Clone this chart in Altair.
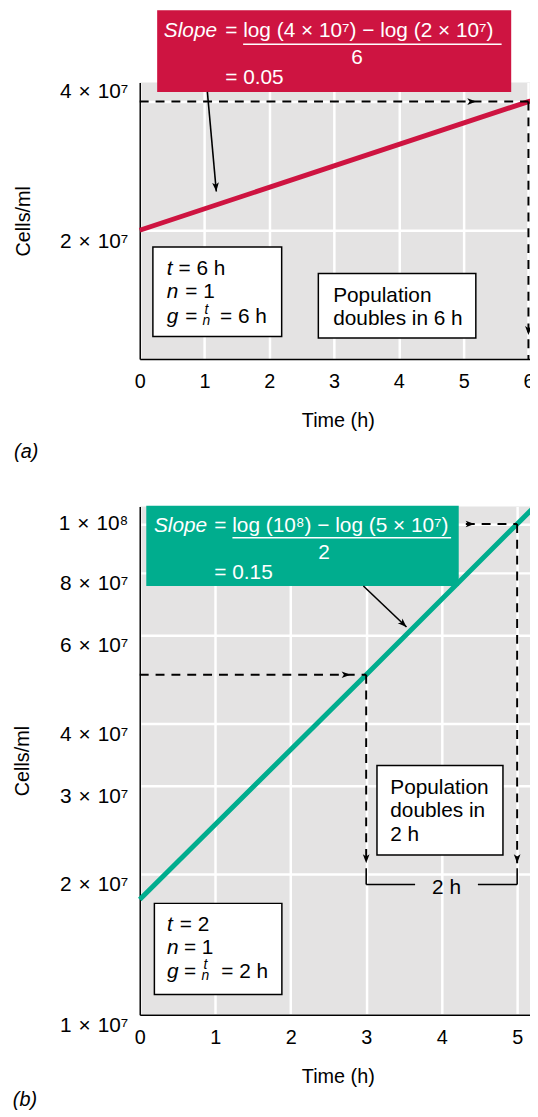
import altair as alt
import pandas as pd

# ---------------- data ----------------
# (a) slow growth: doubles in 6 h
TIME_A = [0, 6, 6.1]
CELLS_A = [2.0e7, 4.0e7, 4.02e7]
# (b) fast growth: doubles in 2 h
TIME_B = [0, 3, 5, 5.23]
CELLS_B = [1.78e7, 5.0e7, 1.0e8, 1.083e8]

X_TICKS_A = [0, 1, 2, 3, 4, 5, 6]
X_TICKS_B = [0, 1, 2, 3, 4, 5]
Y_TICKS_A = [2e7, 4e7]
Y_LABELS_A = ["2\u2004×\u200410⁷", "4\u2004×\u200410⁷"]
Y_TICKS_B = [1e7, 2e7, 3e7, 4e7, 6e7, 8e7, 1e8]
Y_LABELS_B = ["1\u2004×\u200410⁷", "2\u2004×\u200410⁷", "3\u2004×\u200410⁷", "4\u2004×\u200410⁷",
              "6\u2004×\u200410⁷", "8\u2004×\u200410⁷", "1\u2004×\u200410⁸"]

X_DOMAIN_A = [0, 6.116]
Y_DOMAIN_A = [1.0e7, 4.43e7]
X_DOMAIN_B = [0, 5.249]
Y_DOMAIN_B = [1.048e7, 1.0835e8]

# ---------------- styling ----------------
FONT = "Liberation Sans"
RED = "#CE1441"
GREEN = "#00AD8E"
GREY = "#E4E3E3"
W = 400
H_A = 279
H_B = 513
ARROW = "M0,0 L-2,-0.75 L-1.5,0 L-2,0.75 Z"


def label_expr(ticks, labels):
    expr = "'" + labels[-1] + "'"
    for i in range(len(ticks) - 2, -1, -1):
        th = (ticks[i] * ticks[i + 1]) ** 0.5
        expr = f"datum.value < {th} ? '{labels[i]}' : " + expr
    return expr


def panel(line_df, color, xdom, ydom, height, xticks, yvals, yexpr, ybase,
          fill_boxes, white_boxes, dashed, solid, bars, heads, texts, tag, tag_offset):
    xs = alt.Scale(domain=xdom, nice=False, zero=False)
    ys = alt.Scale(type="log", domain=ydom, nice=False)

    xaxis = alt.Axis(values=xticks, title="Time (h)", grid=True, gridColor="white",
                     gridWidth=2.5, domainColor="black", domainWidth=1.5, ticks=False,
                     labelPadding=13, labelFontSize=20, labelColor="black",
                     labelFlush=False, labelOverlap=False, titleFontSize=20,
                     titleFontWeight="normal", titleColor="black", titlePadding=19,
                     labelFont=FONT, titleFont=FONT)
    yaxis = alt.Axis(values=yvals, labelExpr=yexpr, title="Cells/ml", grid=True,
                     gridColor="white", gridWidth=2.5, domainColor="black",
                     domainWidth=1.5, ticks=False, labelPadding=12, labelFontSize=21,
                     labelColor="black", labelFlush=False, labelOverlap=False,
                     labelBaseline=ybase, titleFontSize=20, titleFontWeight="normal",
                     titleColor="black", titlePadding=26,
                     labelFont=FONT, titleFont=FONT)

    def X(f):
        return alt.X(f, type="quantitative", scale=xs, axis=xaxis, title="Time (h)")

    def Y(f):
        return alt.Y(f, type="quantitative", scale=ys, axis=yaxis, title="Cells/ml")

    layers = []
    layers.append(alt.Chart(line_df).mark_line(
        color=color, strokeWidth=5, strokeJoin="round").encode(x=X("t"), y=Y("n")))
    layers.append(alt.Chart(pd.DataFrame(fill_boxes)).mark_rect(fill=color).encode(
        x=X("x1"), x2="x2", y=Y("y1"), y2="y2"))
    layers.append(alt.Chart(pd.DataFrame(white_boxes)).mark_rect(
        fill="white", stroke="black", strokeWidth=1.5).encode(
        x=X("x1"), x2="x2", y=Y("y1"), y2="y2"))
    layers.append(alt.Chart(pd.DataFrame(dashed)).mark_rule(
        color="black", strokeWidth=2, strokeDash=[9, 7]).encode(
        x=X("x1"), x2="x2", y=Y("y1"), y2="y2"))
    layers.append(alt.Chart(pd.DataFrame(solid)).mark_rule(
        color="black", strokeWidth=1.6).encode(
        x=X("x1"), x2="x2", y=Y("y1"), y2="y2"))
    layers.append(alt.Chart(pd.DataFrame(bars)).mark_rule(
        color="white", strokeWidth=1.5).encode(
        x=X("x1"), x2="x2", y=Y("y1"), y2="y2"))
    layers.append(alt.Chart(pd.DataFrame(heads)).mark_point(
        shape=ARROW, filled=True, fill="black", strokeWidth=0, size=81, opacity=1).encode(
        x=X("x"), y=Y("y"), angle=alt.Angle("a:Q", scale=None)))
    for (style, align, size, col), rows in texts.items():
        layers.append(alt.Chart(pd.DataFrame(rows)).mark_text(
            align=align, baseline="alphabetic", fontSize=size, font=FONT,
            fontStyle=style, color=col).encode(
            x=X("x"), y=Y("y"), text="s:N"))

    return alt.layer(*layers).properties(
        width=W, height=height,
        title=alt.TitleParams(tag, orient="bottom", anchor="start", frame="bounds",
                              fontSize=20, fontStyle="italic", fontWeight="normal",
                              color="black", font=FONT, offset=tag_offset))


# ---------------- panel (a) ----------------
pa = panel(
    pd.DataFrame({"t": TIME_A, "n": CELLS_A}), RED, X_DOMAIN_A, Y_DOMAIN_A, H_A,
    X_TICKS_A, Y_TICKS_A, label_expr(Y_TICKS_A, Y_LABELS_A),
    {"condition": {"test": "datum.value > 3e7", "value": "bottom"}, "value": "top"},
    fill_boxes=[{"x1": 0.269, "x2": 5.734, "y1": 6.54e7, "y2": 4.213e7}],
    white_boxes=[{"x1": 0.203, "x2": 2.191, "y1": 1.828e7, "y2": 1.128e7},
                 {"x1": 2.757, "x2": 5.188, "y1": 1.584e7, "y2": 1.12e7}],
    dashed=[{"x1": 0, "x2": 6, "y1": 4e7, "y2": 4e7},
            {"x1": 6, "x2": 6, "y1": 4e7, "y2": 1e7}],
    solid=[{"x1": 1.044, "x2": 1.182, "y1": 4.213e7, "y2": 2.464e7}],
    bars=[{"x1": 1.596, "x2": 5.586, "y1": 5.448e7, "y2": 5.448e7}],
    heads=[{"x": 5.194, "y": 4e7, "a": 0},
           {"x": 6, "y": 1.138e7, "a": 90},
           {"x": 1.182, "y": 2.464e7, "a": 85}],
    texts={
        ("italic", "left", 21, "white"): [{"x": 0.372, "y": 5.656e7, "s": "Slope"}],
        ("normal", "left", 21, "white"): [
            {"x": 1.320, "y": 5.656e7, "s": "= log (4 × 10⁷) − log (2 × 10⁷)"},
            {"x": 1.320, "y": 4.404e7, "s": "= 0.05"}],
        ("normal", "center", 21, "white"): [{"x": 3.353, "y": 4.898e7, "s": "6"}],
        ("italic", "left", 21, "black"): [
            {"x": 0.417, "y": 1.575e7, "s": "t"},
            {"x": 0.417, "y": 1.386e7, "s": "n"},
            {"x": 0.417, "y": 1.213e7, "s": "g"}],
        ("normal", "left", 21, "black"): [
            {"x": 0.600, "y": 1.575e7, "s": "= 6 h"},
            {"x": 0.703, "y": 1.386e7, "s": "= 1"},
            {"x": 0.703, "y": 1.213e7, "s": "="},
            {"x": 1.239, "y": 1.213e7, "s": "= 6 h"},
            {"x": 2.986, "y": 1.357e7, "s": "Population"},
            {"x": 2.986, "y": 1.2005e7, "s": "doubles in 6 h"}],
        ("italic", "center", 14, "black"): [
            {"x": 1.03, "y": 1.273e7, "s": "t"},
            {"x": 1.03, "y": 1.2005e7, "s": "n"}],
    },
    tag="(a)", tag_offset=12)

# ---------------- panel (b) ----------------
pb = panel(
    pd.DataFrame({"t": TIME_B, "n": CELLS_B}), GREEN, X_DOMAIN_B, Y_DOMAIN_B, H_B,
    X_TICKS_B, [max(v, Y_DOMAIN_B[0]) for v in Y_TICKS_B],
    label_expr(Y_TICKS_B, Y_LABELS_B),
    {"condition": {"test": "datum.value > 9e7", "value": "middle"}, "value": "top"},
    fill_boxes=[{"x1": 0.0866, "x2": 4.226, "y1": 1.087e8, "y2": 7.52e7}],
    white_boxes=[{"x1": 0.194, "x2": 1.883, "y1": 1.748e7, "y2": 1.1495e7},
                 {"x1": 3.143, "x2": 4.812, "y1": 3.296e7, "y2": 2.184e7}],
    dashed=[{"x1": 0, "x2": 3, "y1": 5e7, "y2": 5e7},
            {"x1": 3, "x2": 3, "y1": 5e7, "y2": 2.103e7},
            {"x1": 4.32, "x2": 5, "y1": 1e8, "y2": 1e8},
            {"x1": 5, "x2": 5, "y1": 1e8, "y2": 2.103e7}],
    solid=[{"x1": 2.963, "x2": 3.534, "y1": 7.52e7, "y2": 6.226e7},
           {"x1": 3, "x2": 3, "y1": 2.055e7, "y2": 1.906e7},
           {"x1": 5, "x2": 5, "y1": 2.055e7, "y2": 1.906e7},
           {"x1": 3, "x2": 3.648, "y1": 1.906e7, "y2": 1.906e7},
           {"x1": 4.48, "x2": 5, "y1": 1.906e7, "y2": 1.906e7}],
    bars=[{"x1": 1.228, "x2": 4.125, "y1": 9.382e7, "y2": 9.382e7}],
    heads=[{"x": 2.793, "y": 5e7, "a": 0},
           {"x": 4.436, "y": 1e8, "a": 0},
           {"x": 3, "y": 2.103e7, "a": 90},
           {"x": 5, "y": 2.103e7, "a": 90},
           {"x": 3.534, "y": 6.226e7, "a": 44}],
    texts={
        ("italic", "left", 21, "white"): [{"x": 0.188, "y": 9.642e7, "s": "Slope"}],
        ("normal", "left", 21, "white"): [
            {"x": 0.988, "y": 9.642e7, "s": "= log (10⁸) − log (5 × 10⁷)"},
            {"x": 0.988, "y": 7.759e7, "s": "= 0.15"}],
        ("normal", "center", 21, "white"): [{"x": 2.441, "y": 8.527e7, "s": "2"}],
        ("italic", "left", 21, "black"): [
            {"x": 0.361, "y": 1.541e7, "s": "t"},
            {"x": 0.361, "y": 1.385e7, "s": "n"},
            {"x": 0.361, "y": 1.242e7, "s": "g"}],
        ("normal", "left", 21, "black"): [
            {"x": 0.531, "y": 1.541e7, "s": "= 2"},
            {"x": 0.585, "y": 1.385e7, "s": "= 1"},
            {"x": 0.585, "y": 1.242e7, "s": "="},
            {"x": 1.08, "y": 1.242e7, "s": "= 2 h"},
            {"x": 3.319, "y": 2.891e7, "s": "Population"},
            {"x": 3.319, "y": 2.602e7, "s": "doubles in"},
            {"x": 3.319, "y": 2.329e7, "s": "2 h"}],
        ("normal", "center", 21, "black"): [{"x": 4.064, "y": 1.821e7, "s": "2 h"}],
        ("italic", "center", 14, "black"): [
            {"x": 0.87, "y": 1.294e7, "s": "t"},
            {"x": 0.87, "y": 1.231e7, "s": "n"}],
    },
    tag="(b)", tag_offset=4)

chart = alt.vconcat(pa, pb, spacing=42).properties(
    padding={"left": 4, "top": -4, "right": -8, "bottom": 0}
).configure(font=FONT).configure_view(fill=GREY, strokeWidth=0)

chart.save("out.html", embed_options={"renderer": "svg", "actions": False})
